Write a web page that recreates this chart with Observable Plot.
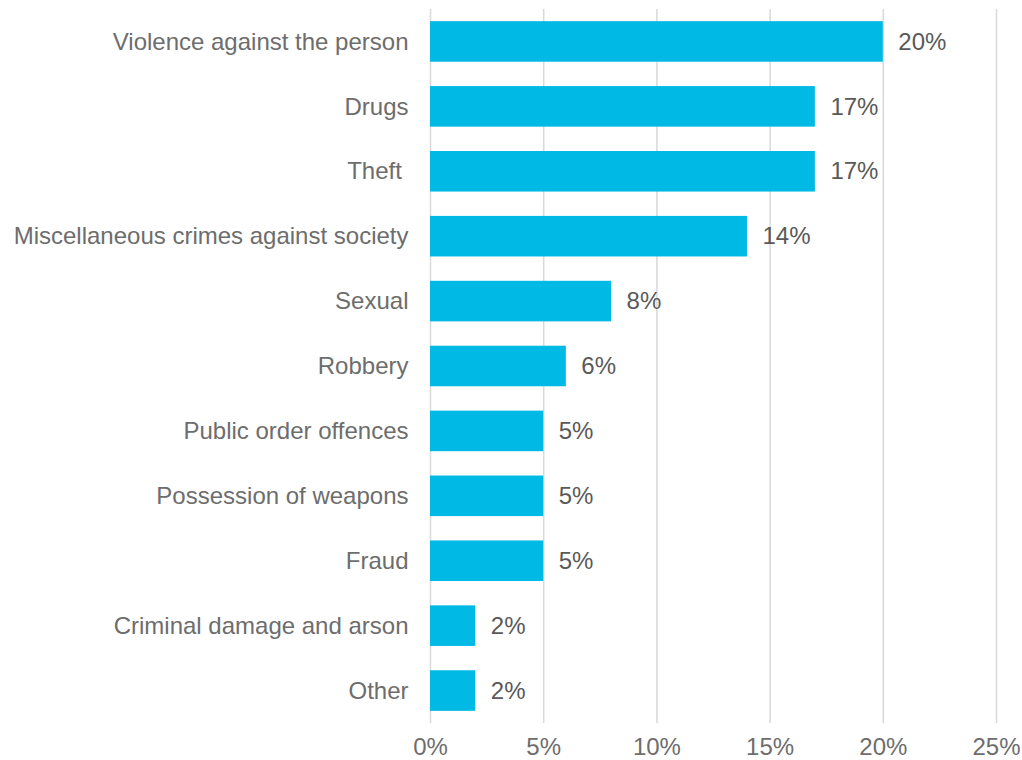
<!DOCTYPE html>
<html>
<head>
<meta charset="utf-8">
<script src="https://cdn.jsdelivr.net/npm/d3@7"></script>
<script src="https://cdn.jsdelivr.net/npm/@observablehq/plot@0.6"></script>
<style>
  html, body { margin: 0; padding: 0; background: #fff; }
  #chart svg { display: block; }
  #chart text { white-space: pre; }
</style>
</head>
<body>
<div id="chart"></div>
<script>
const categories = [
  "Violence against the person",
  "Drugs",
  "Theft ",
  "Miscellaneous crimes against society",
  "Sexual",
  "Robbery",
  "Public order offences",
  "Possession of weapons",
  "Fraud",
  "Criminal damage and arson",
  "Other"
];
const values = [20, 17, 17, 14, 8, 6, 5, 5, 5, 2, 2];
const xTicks = [0, 5, 10, 15, 20, 25];

const data = categories.map((c, i) => ({category: c, value: values[i]}));

const chart = Plot.plot({
  width: 1022,
  height: 760,
  marginTop: 9,
  marginBottom: 37,
  marginLeft: 430,
  marginRight: 26,
  style: {fontFamily: "Liberation Sans, Arial, sans-serif", fontSize: "24px", color: "#6d6d6d", background: "#fff"},
  x: {domain: [0, 25], ticks: xTicks, tickFormat: d => d + "%", label: null},
  y: {domain: categories, paddingInner: 0.375, paddingOuter: 0.1875, round: false, label: null},
  marks: [
    Plot.ruleX(xTicks, {stroke: "#d9d9d9", strokeWidth: 1.5}),
    Plot.barX(data, {x: "value", y: "category", fill: "#00b9e4"}),
    Plot.text(data, {x: "value", y: "category", text: d => d.value + "%", textAnchor: "start", dx: 15, fill: "#595959", fontSize: 24}),
    Plot.axisX({ticks: xTicks, tickFormat: d => d + "%", tickSize: 0, tickPadding: 14, fontSize: 24, fill: "#6d6d6d"}),
    Plot.axisY({tickSize: 0, tickPadding: 22, fontSize: 24, fill: "#6d6d6d"})
  ]
});
document.getElementById("chart").appendChild(chart);
</script>
</body>
</html>
